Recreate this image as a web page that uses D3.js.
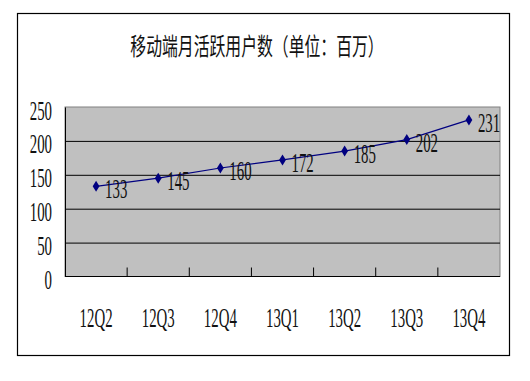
<!DOCTYPE html>
<meta charset="utf-8">
<style>
body { margin: 0; background: #fff; }
text { font-family: "Liberation Serif", serif; }
.title { font-family: "Noto Sans CJK SC", sans-serif; }
</style>
<svg width="530" height="381"></svg>
<script src="https://d3js.org/d3.v7.min.js"></script>
<script>

var quarters = ["12Q2", "12Q3", "12Q4", "13Q1", "13Q2", "13Q3", "13Q4"];
var users = [133, 145, 160, 172, 185, 202, 231];
var yTicks = [0, 50, 100, 150, 200, 250];
var title = "移动端月活跃用户数（单位：百万）";

var svg = d3.select("svg");
var sx = 0.55; // narrow, tall digits like the original

// outer frame
svg.append("rect")
  .attr("x", 17.5).attr("y", 13.5)
  .attr("width", 492).attr("height", 342)
  .attr("fill", "#fff").attr("stroke", "#000").attr("stroke-width", 1.2);

svg.append("text")
  .attr("class", "title")
  .attr("transform", "translate(257,44) scale(0.66,1)")
  .attr("text-anchor", "middle")
  .attr("dominant-baseline", "central")
  .attr("font-size", 24)
  .attr("fill", "#111")
  .text(title);

var plotL = 65, plotR = 500, plotT = 107, plotB = 276.5;

var x = d3.scaleBand().domain(quarters).range([plotL, plotR]).padding(0);
var y = d3.scaleLinear().domain([0, 250]).range([plotB, plotT]);

// plot area
svg.append("rect")
  .attr("x", plotL).attr("y", plotT)
  .attr("width", plotR - plotL).attr("height", plotB - plotT)
  .attr("fill", "#c0c0c0").attr("stroke", "#808080").attr("stroke-width", 1);

// gridlines
svg.append("g")
  .attr("transform", "translate(" + plotL + ",0)")
  .call(d3.axisLeft(y).tickValues([50, 100, 150, 200]).tickSize(-(plotR - plotL)).tickFormat(""))
  .call(function(g) { g.select(".domain").remove(); })
  .selectAll("line").attr("stroke", "#000");

// y axis
var gy = svg.append("g")
  .attr("transform", "translate(" + plotL + ",0)")
  .call(d3.axisLeft(y).tickValues(yTicks).tickSize(0));
gy.select(".domain").attr("stroke", "#000");
gy.selectAll("text")
  .attr("font-size", 27)
  .attr("fill", "#111")
  .attr("dy", null)
  .attr("x", -13 / sx)
  .attr("y", 12)
  .attr("transform", "scale(" + sx + ",1)");

// x axis baseline + inward ticks at category borders
svg.append("line")
  .attr("x1", plotL).attr("x2", plotR)
  .attr("y1", plotB).attr("y2", plotB)
  .attr("stroke", "#000");
svg.append("g").selectAll("line")
  .data(quarters.slice(1))
  .join("line")
  .attr("x1", function(d) { return x(d); })
  .attr("x2", function(d) { return x(d); })
  .attr("y1", plotB).attr("y2", plotB - 9)
  .attr("stroke", "#000");

var gx = svg.append("g")
  .attr("transform", "translate(0," + plotB + ")")
  .call(d3.axisBottom(x).tickSize(0));
gx.select(".domain").remove();
gx.selectAll("text")
  .attr("font-size", 27)
  .attr("fill", "#111")
  .attr("dy", null)
  .attr("y", 50.5)
  .attr("transform", "scale(" + sx + ",1)");

// series
var cx = function(d, i) { return x(quarters[i]) + x.bandwidth() / 2; };
svg.append("path")
  .datum(users)
  .attr("fill", "none")
  .attr("stroke", "#000080")
  .attr("stroke-width", 1.2)
  .attr("d", d3.line().x(cx).y(function(d) { return y(d); }));

svg.append("g").selectAll("path")
  .data(users)
  .join("path")
  .attr("d", "M0,-5.5L3.4,0L0,5.5L-3.4,0Z")
  .attr("fill", "#000080")
  .attr("transform", function(d, i) { return "translate(" + cx(d, i) + "," + y(d) + ")"; });

svg.append("g").selectAll("text")
  .data(users)
  .join("text")
  .attr("font-size", 27)
  .attr("fill", "#111")
  .attr("transform", function(d, i) {
    return "translate(" + (cx(d, i) + 9) + "," + (y(d) + 12) + ") scale(" + sx + ",1)";
  })
  .text(function(d) { return d; });

</script>
